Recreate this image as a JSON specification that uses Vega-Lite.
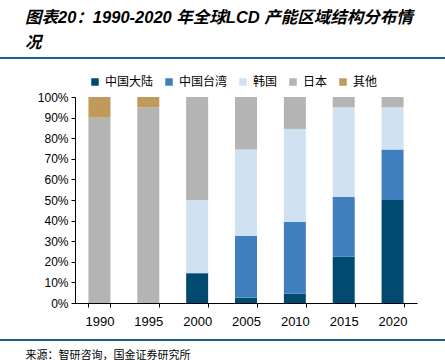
{
  "$schema": "https://vega.github.io/schema/vega-lite/v6.json",
  "autosize": "none",
  "width": 342,
  "height": 206,
  "padding": {"left": 75, "top": 97, "right": 28, "bottom": 57},
  "background": "white",
  "title": {
    "text": ["图表20：1990-2020 年全球LCD 产能区域结构分布情", "况"],
    "anchor": "start",
    "frame": "group",
    "orient": "top",
    "baseline": "top",
    "dx": -50,
    "dy": -6,
    "offset": 0,
    "font": "Liberation Sans, Noto Sans CJK SC",
    "fontSize": 16.5,
    "fontWeight": "bold",
    "fontStyle": "italic",
    "color": "#000000",
    "lineHeight": 25
  },
  "config": {
    "view": {"stroke": null},
    "axis": {"labelFont": "Liberation Sans", "labelColor": "#000000", "domainColor": "#000000", "tickColor": "#000000"}
  },
  "data": {
    "values": [
      {"year": "1990", "region": "日本", "value": 90, "k": 4},
      {"year": "1990", "region": "其他", "value": 10, "k": 5},
      {"year": "1995", "region": "日本", "value": 95, "k": 4},
      {"year": "1995", "region": "其他", "value": 5, "k": 5},
      {"year": "2000", "region": "中国大陆", "value": 14.5, "k": 1},
      {"year": "2000", "region": "韩国", "value": 35.5, "k": 3},
      {"year": "2000", "region": "日本", "value": 50, "k": 4},
      {"year": "2005", "region": "中国大陆", "value": 2.5, "k": 1},
      {"year": "2005", "region": "中国台湾", "value": 30, "k": 2},
      {"year": "2005", "region": "韩国", "value": 42, "k": 3},
      {"year": "2005", "region": "日本", "value": 25.5, "k": 4},
      {"year": "2010", "region": "中国大陆", "value": 4.5, "k": 1},
      {"year": "2010", "region": "中国台湾", "value": 35, "k": 2},
      {"year": "2010", "region": "韩国", "value": 45, "k": 3},
      {"year": "2010", "region": "日本", "value": 15.5, "k": 4},
      {"year": "2015", "region": "中国大陆", "value": 22.5, "k": 1},
      {"year": "2015", "region": "中国台湾", "value": 29, "k": 2},
      {"year": "2015", "region": "韩国", "value": 43.5, "k": 3},
      {"year": "2015", "region": "日本", "value": 5, "k": 4},
      {"year": "2020", "region": "中国大陆", "value": 50, "k": 1},
      {"year": "2020", "region": "中国台湾", "value": 24.5, "k": 2},
      {"year": "2020", "region": "韩国", "value": 20.5, "k": 3},
      {"year": "2020", "region": "日本", "value": 5, "k": 4}
    ]
  },
  "layer": [
    {
      "mark": {"type": "bar"},
      "encoding": {
        "x": {
          "field": "year", "type": "ordinal",
          "scale": {"paddingInner": 0.55, "paddingOuter": 0.275},
          "axis": {
            "title": "来源：智研咨询，国金证券研究所",
            "titleFont": "Noto Sans CJK SC",
            "titleFontSize": 11,
            "titleFontWeight": "normal",
            "titleColor": "#000000",
            "titleX": -50,
            "titleY": 52,
            "titleAnchor": "start",
            "titleAlign": "left",
            "titleBaseline": "middle",
            "labelAngle": 0,
            "labelFontSize": 13,
            "labelPadding": 8,
            "tickBand": "extent",
            "tickSize": 4
          }
        },
        "y": {
          "field": "value", "type": "quantitative", "stack": "zero",
          "scale": {"domain": [0, 100]},
          "axis": {
            "title": null,
            "values": [0, 10, 20, 30, 40, 50, 60, 70, 80, 90, 100],
            "labelExpr": "datum.value + '%'",
            "labelFontSize": 12,
            "grid": false,
            "tickSize": 4,
            "labelPadding": 3
          }
        },
        "color": {
          "field": "region", "type": "nominal",
          "scale": {
            "domain": ["中国大陆", "中国台湾", "韩国", "日本", "其他"],
            "range": ["#004A6F", "#3F7FBD", "#D0E2F2", "#B4B4B4", "#C09A5A"]
          },
          "legend": {
            "title": null,
            "orient": "none",
            "legendX": 14,
            "legendY": -21,
            "direction": "horizontal",
            "symbolType": "square",
            "symbolSize": 56,
            "symbolStrokeWidth": 0,
            "labelFont": "Noto Sans CJK SC",
            "labelFontSize": 12,
            "labelColor": "#000000",
            "columnPadding": 9,
            "labelOffset": 4
          }
        },
        "order": {"field": "k", "type": "quantitative"}
      }
    },
    {
      "mark": {"type": "rule", "color": "#1F5F8B", "strokeWidth": 1.2, "clip": false},
      "encoding": {
        "x": {"value": -75},
        "x2": {"value": 370},
        "y": {"value": 243}
      }
    },
    {
      "mark": {"type": "rule", "color": "#1F5F8B", "strokeWidth": 1.2, "clip": false},
      "encoding": {
        "x": {"value": -75},
        "x2": {"value": 370},
        "y": {"value": -39}
      }
    }
  ]
}
